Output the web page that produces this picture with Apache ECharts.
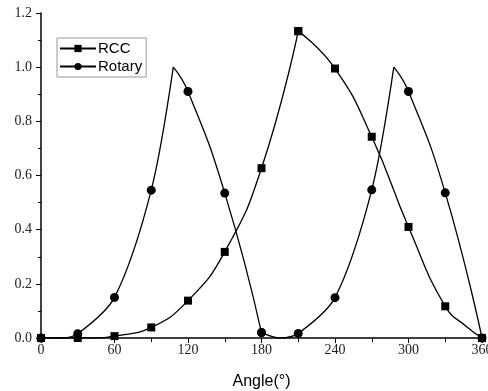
<!DOCTYPE html>
<html>
<head>
<meta charset="utf-8">
<script src="https://cdn.jsdelivr.net/npm/echarts@6/dist/echarts.min.js"></script>
<style>html,body{margin:0;padding:0;background:#fff}#c{width:488px;height:391px}</style>
</head>
<body>
<div id="c"></div>
<script>
// Marker values every 30 degrees
const angles = [0, 30, 60, 90, 120, 150, 180, 210, 240, 270, 300, 330, 360];
const rcc    = [0, 0, 0.007, 0.039, 0.138, 0.318, 0.627, 1.133, 0.995, 0.743, 0.410, 0.117, 0];
const rotary = [0, 0.016, 0.150, 0.546, 0.910, 0.535, 0.020, 0.017, 0.149, 0.547, 0.910, 0.536, 0];
// Extra curve points (no markers there)
const rotaryPeaks = [[108, 1.0], [288, 1.0]];
const rotaryFlat  = [[15, 0], [195, 0]];
const rccExtra    = [[45, 0], [348, 0.04]];
const yTickLabels = ['0.0', '0.2', '0.4', '0.6', '0.8', '1.0', '1.2'];

function pts(vals, lo, hi) {
  const out = [];
  angles.forEach((a, i) => { if (a >= lo && a <= hi) out.push({ value: [a, vals[i]] }); });
  return out;
}
function extra(arr, lo, hi) {
  return arr.filter(p => p[0] >= lo && p[0] <= hi).map(p => ({ value: p, symbol: 'none' }));
}
function seg(name, symbol, size, smooth, data) {
  data.sort((a, b) => a.value[0] - b.value[0]);
  return {
    name: name, type: 'line', smooth: smooth, symbol: symbol, symbolSize: size,
    showAllSymbol: true, data: data,
    lineStyle: { color: '#000', width: 1.3 },
    itemStyle: { color: '#000' },
    emphasis: { disabled: true }, animation: false
  };
}
const series = [
  seg('RCC', 'rect', 8, 0.5, pts(rcc, 0, 210).concat(extra(rccExtra, 0, 210))),
  seg('RCC', 'rect', 8, 0.5, pts(rcc, 210, 360).concat(extra(rccExtra, 210, 360))),
  seg('Rotary', 'circle', 9, 0.3, pts(rotary, 0, 90).concat(extra(rotaryFlat, 0, 90), extra(rotaryPeaks, 0, 110))),
  seg('Rotary', 'circle', 9, 0.5, pts(rotary, 120, 180).concat(extra(rotaryPeaks, 100, 110))),
  seg('Rotary', 'circle', 9, 0.3, pts(rotary, 180, 270).concat(extra(rotaryFlat, 180, 270), extra(rotaryPeaks, 280, 290))),
  seg('Rotary', 'circle', 9, 0.5, pts(rotary, 300, 360).concat(extra(rotaryPeaks, 280, 290)))
];

const chart = echarts.init(document.getElementById('c'));
chart.setOption({
  backgroundColor: '#fff',
  animation: false,
  grid: { left: 41, right: 6, top: 13, bottom: 53, containLabel: false, outerBoundsMode: 'none' },
  legend: {
    data: ['RCC', 'Rotary'], orient: 'vertical', left: 57, top: 38,
    itemWidth: 36, itemHeight: 9, itemGap: 3, padding: [3, 4, 3, 2],
    borderColor: '#999', borderWidth: 1, selectedMode: false,
    textStyle: { fontFamily: 'Liberation Sans', fontSize: 15, color: '#000', padding: [0, 0, 0, -3] }
  },
  xAxis: {
    type: 'value', min: 0, max: 360, interval: 60,
    name: 'Angle(°)', nameLocation: 'middle', nameGap: 36,
    nameTextStyle: { fontFamily: 'Liberation Sans', fontSize: 16, color: '#000' },
    axisLine: { show: true, onZero: false, lineStyle: { color: '#000', width: 1.5 } },
    axisTick: { show: true, inside: false, length: 5, lineStyle: { color: '#000', width: 1 } },
    minorTick: { show: true, splitNumber: 2, length: 4, lineStyle: { color: '#000', width: 1 } },
    axisLabel: { fontFamily: 'Liberation Serif', fontSize: 14, color: '#222', margin: 5 },
    splitLine: { show: false }
  },
  yAxis: {
    type: 'value', min: 0, max: 1.2, interval: 0.2,
    axisLine: { show: true, lineStyle: { color: '#000', width: 1.5 } },
    axisTick: { show: true, inside: false, length: 5, lineStyle: { color: '#000', width: 1 } },
    minorTick: { show: true, splitNumber: 2, length: 3, lineStyle: { color: '#000', width: 1 } },
    axisLabel: {
      fontFamily: 'Liberation Serif', fontSize: 14, color: '#222', margin: 9,
      formatter: v => yTickLabels[Math.round(v / 0.2)]
    },
    splitLine: { show: false }
  },
  series: series
});
</script>
</body>
</html>
